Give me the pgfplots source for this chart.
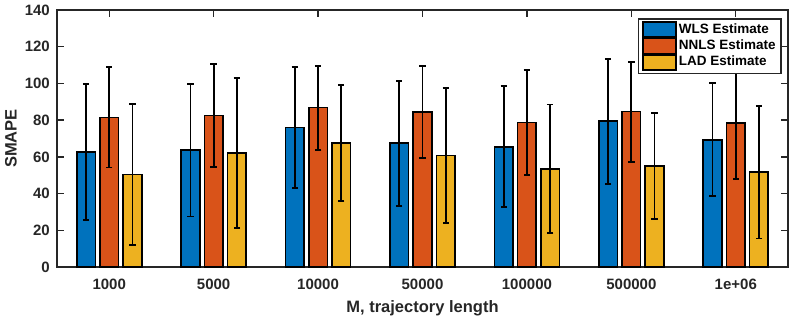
\documentclass[border=0pt]{standalone}
\usepackage{pgfplots}
\pgfplotsset{compat=1.18}
\usepackage{fontspec}
\setmainfont{Liberation Sans}
\definecolor{mblue}{rgb}{0,0.447,0.741}
\definecolor{morange}{rgb}{0.85,0.325,0.098}
\definecolor{myellow}{rgb}{0.929,0.694,0.125}
\definecolor{tgray}{HTML}{262626}
\newcommand{\legfont}{\fontsize{13.5bp}{16bp}\selectfont\bfseries}
\pgfplotsset{
  mybar/.style={ybar, bar shift=0pt, bar width=0.178, fill=#1, draw=black, line width=1.6bp,
    legend image code/.code={\draw[fill=#1, draw=black, line width=1.6bp] (0bp,-7.4bp) rectangle (33bp,7.4bp);},
    error bars/y dir=both, error bars/y explicit,
    error bars/error bar style={line width=1.8bp, draw=black},
    error bars/error mark options={rotate=90, mark size=3.2bp, line width=1.8bp, draw=black}},
}
\begin{document}
\begin{tikzpicture}
\path[use as bounding box] (-57bp,-49bp) rectangle (732bp,267bp);
\begin{axis}[
  at={(0,0)}, anchor=south west,
  scale only axis, width=731bp, height=257bp,
  xmin=0.5, xmax=7.5, ymin=0, ymax=140,
  xtick={1,...,7},
  xticklabels={1000,5000,10000,50000,100000,500000,1e+06},
  ytick={0,20,...,140},
  tick align=inside, xtick pos=both, ytick pos=both,
  major tick length=7bp,
  axis line style={line width=1.3bp, draw=tgray},
  every tick/.style={line width=1.3bp, draw=tgray},
  tick label style={font=\fontsize{15bp}{18bp}\selectfont\bfseries, text=tgray},
  /pgf/number format/assume math mode=true,
  xticklabel style={anchor=base, yshift=-22bp},
  yticklabel style={inner xsep=7bp},
  label style={font=\fontsize{16.5bp}{19bp}\selectfont\bfseries, text=tgray},
  xlabel={M, trajectory length}, ylabel={SMAPE},
  xlabel style={at={(axis description cs:0.5,-0.1751)}, anchor=base},
  ylabel style={at={(axis description cs:-0.0551,0.5)}, anchor=base},
  legend style={at={(axis description cs:0.9914,0.9677)}, anchor=north east,
    draw=tgray, line width=1.3bp, fill=white,
    font=\legfont, inner xsep=3.5bp, inner ysep=2.5bp,
    nodes={font=\legfont, text height=9.5bp, text depth=2.5bp, inner ysep=1bp, inner xsep=2bp},
    /tikz/column sep=0pt},
  legend cell align=left,
]
\addplot[mybar=mblue] coordinates {
  (0.7778,62.8) +- (0,37.0)
  (1.7778,63.7) +- (0,36.2)
  (2.7778,75.9) +- (0,33.0)
  (3.7778,67.4) +- (0,34.1)
  (4.7778,65.5) +- (0,33.0)
  (5.7778,79.4) +- (0,34.0)
  (6.7778,69.3) +- (0,30.8)
};
\addlegendentry{WLS Estimate}
\addplot[mybar=morange] coordinates {
  (1,81.5) +- (0,27.3)
  (2,82.6) +- (0,28.1)
  (3,86.8) +- (0,22.9)
  (4,84.3) +- (0,25.1)
  (5,78.8) +- (0,28.7)
  (6,84.6) +- (0,27.2)
  (7,78.4) +- (0,30.5)
};
\addlegendentry{NNLS Estimate}
\addplot[mybar=myellow] coordinates {
  (1.2222,50.3) +- (0,38.3)
  (2.2222,62.1) +- (0,40.8)
  (3.2222,67.4) +- (0,31.6)
  (4.2222,60.8) +- (0,36.7)
  (5.2222,53.5) +- (0,35.0)
  (6.2222,55.0) +- (0,28.7)
  (7.2222,51.7) +- (0,36.2)
};
\addlegendentry{LAD Estimate}
\end{axis}
\end{tikzpicture}
\end{document}
